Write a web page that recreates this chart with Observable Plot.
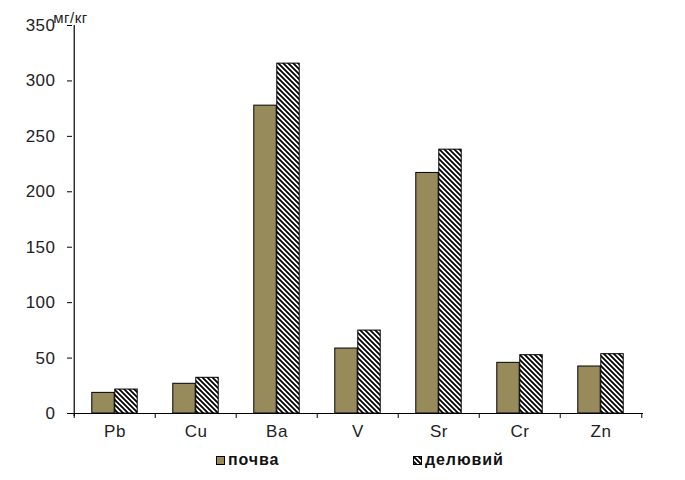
<!DOCTYPE html>
<html>
<head>
<meta charset="utf-8">
<script src="https://cdn.jsdelivr.net/npm/d3@7"></script>
<script src="https://cdn.jsdelivr.net/npm/@observablehq/plot@0.6"></script>
<style>
  body { margin: 0; background: #fff; font-family: "Liberation Sans", Arial, sans-serif; }
  #wrap { width: 685px; position: relative; }
  #legend { position: relative; width: 685px; height: 35px; }
  .item { position: absolute; top: 6px; display: flex; align-items: center; font-weight: bold; font-size: 16px; letter-spacing: 0.9px; color: #111; }
</style>
</head>
<body>
<svg width="0" height="0" style="position:absolute">
  <defs>
    <pattern id="hatch" patternUnits="userSpaceOnUse" width="5" height="5">
      <rect width="5" height="5" fill="#fff"/>
      <path d="M-1,-1 L6,6 M-1,4 L1,6 M4,-1 L6,1" stroke="#000" stroke-width="1.8"/>
    </pattern>
  </defs>
</svg>
<div id="wrap"></div>
<script>
const elements = ["Pb", "Cu", "Ba", "V", "Sr", "Cr", "Zn"];
const soil = [18.6, 26.8, 277.7, 58.6, 217, 45.7, 42.4];
const deluvium = [21.6, 32.2, 315.6, 74.8, 238, 52.6, 53.5];
const yTicks = [0, 50, 100, 150, 200, 250, 300, 350];
const seriesNames = ["почва", "делювий"];
const unitLabel = "мг/кг";

const soilColor = "#978b5c";
const data = elements.map((el, i) => ({el, soil: soil[i], deluvium: deluvium[i]}));

const W = 685, ML = 72, MR = 42;
const step = (W - ML - MR) / elements.length;
const barW = 23;

const chart = Plot.plot({
  width: W,
  height: 445,
  marginLeft: ML,
  marginRight: MR,
  marginTop: 25,
  marginBottom: 32,
  style: {fontFamily: "'Liberation Sans', Arial, sans-serif", fontSize: "16px", color: "#222", background: "#fff"},
  x: {domain: elements, padding: 0, label: null},
  y: {domain: [0, 350], label: null},
  marks: [
    Plot.barY(data, {x: "el", y: "soil", fill: soilColor, stroke: "#000", strokeWidth: 1,
      insetLeft: step / 2 - barW, insetRight: step / 2}),
    Plot.barY(data, {x: "el", y: "deluvium", fill: "url(#hatch)", stroke: "#000", strokeWidth: 1,
      insetLeft: step / 2, insetRight: step / 2 - barW}),
    Plot.ruleY([0], {stroke: "#000", strokeWidth: 1.2}),
    Plot.ruleX([elements[0]], {dx: -step / 2, stroke: "#000", strokeWidth: 1.2, insetBottom: -3}),
    Plot.axisY({ticks: yTicks, tickSize: 5, tickPadding: 12, fontSize: 17, stroke: "#000", fill: "#222", label: null}),
    Plot.axisX({ticks: elements, tickSize: 5, tickFormat: () => "", dx: -step / 2, stroke: "#000", label: null}),
    Plot.axisX({ticks: [elements[elements.length - 1]], tickSize: 5, tickFormat: () => "", dx: step / 2, stroke: "#000", label: null}),
    Plot.axisX({ticks: elements, tickSize: 0, tickPadding: 11, fontSize: 17, fill: "#222", label: null}),
    Plot.text([unitLabel], {frameAnchor: "top-left", dx: -2, dy: -13, textAnchor: "middle", fontSize: 15, fill: "#222"})
  ]
});
d3.select(chart).selectAll("g[aria-label$='tick label'] text").style("letter-spacing", "0.5px");
d3.select(chart).selectAll("g[aria-label='text'] text").style("letter-spacing", "0.5px");
document.getElementById("wrap").appendChild(chart);

const legend = document.createElement("div");
legend.id = "legend";
const lefts = [216, 413];
const fills = [soilColor, "url(#hatch)"];
seriesNames.forEach((name, i) => {
  const item = document.createElement("div");
  item.className = "item";
  item.style.left = lefts[i] + "px";
  const sw = document.createElementNS("http://www.w3.org/2000/svg", "svg");
  sw.setAttribute("width", 9); sw.setAttribute("height", 9);
  sw.style.marginRight = "3px";
  const r = document.createElementNS("http://www.w3.org/2000/svg", "rect");
  r.setAttribute("x", 0.5); r.setAttribute("y", 0.5); r.setAttribute("width", 8); r.setAttribute("height", 8);
  r.setAttribute("fill", fills[i]); r.setAttribute("stroke", "#000");
  sw.appendChild(r);
  item.appendChild(sw);
  const t = document.createElement("span");
  t.textContent = name;
  item.appendChild(t);
  legend.appendChild(item);
});
document.getElementById("wrap").appendChild(legend);
</script>
</body>
</html>
